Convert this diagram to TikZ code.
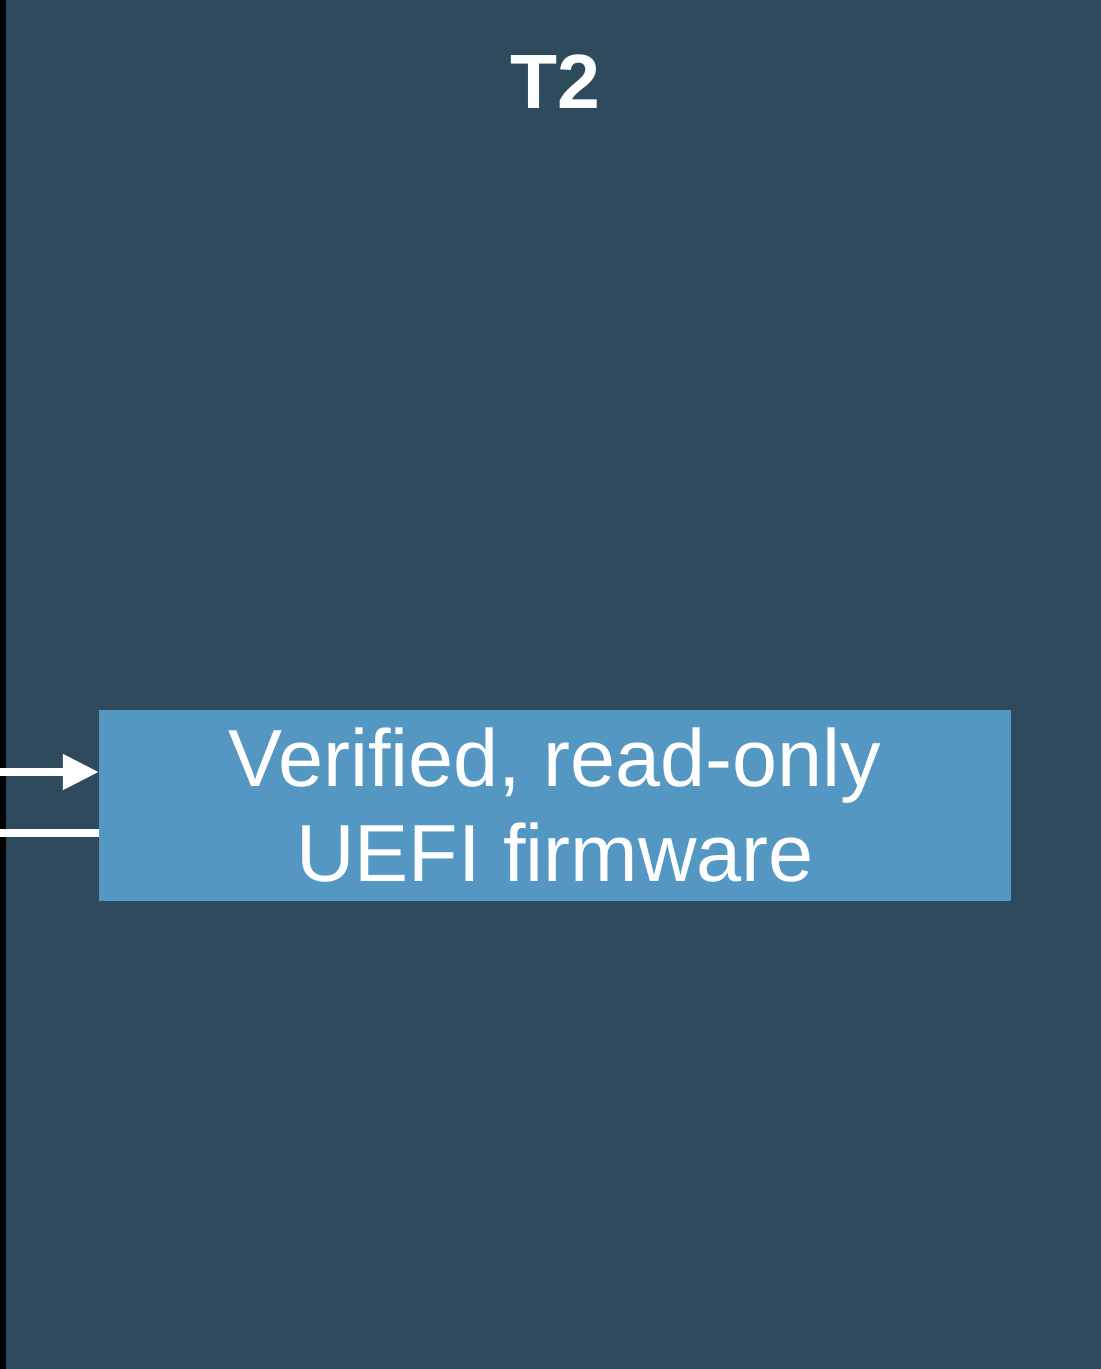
\documentclass[tikz,border=0pt]{standalone}
\usepackage{fontspec}
\setmainfont{Liberation Sans}
\usetikzlibrary{arrows.meta}
\definecolor{bg}{HTML}{2E4A5C}
\definecolor{boxc}{HTML}{5397C2}
\begin{document}
\begin{tikzpicture}[x=1pt,y=-1pt,
  conn/.style={draw=white,line width=8pt},
  boxstyle/.style={fill=boxc,inner sep=0pt,minimum width=912pt,minimum height=191pt,text=white,align=center,font=\fontsize{81}{95}\selectfont}]
\useasboundingbox (0,0) rectangle (1101,1369);
\fill[black] (0,0) rectangle (6,1369);
\fill[bg] (6,0) rectangle (1101,1369);
\node[text=white,font=\bfseries\fontsize{77}{80}\selectfont] (title) at (555,82) {T2};
\node[boxstyle] (fw) at (555,805.5) {Verified, read-only\\UEFI firmware};
\coordinate (a1) at (0,772);
\coordinate (a2) at (0,833);
\draw[conn,-{Triangle[length=36pt,width=34pt]}] (a1) -- (a1 -| fw.west);
\draw[conn] (a2) -- (a2 -| fw.west);
\end{tikzpicture}
\end{document}
